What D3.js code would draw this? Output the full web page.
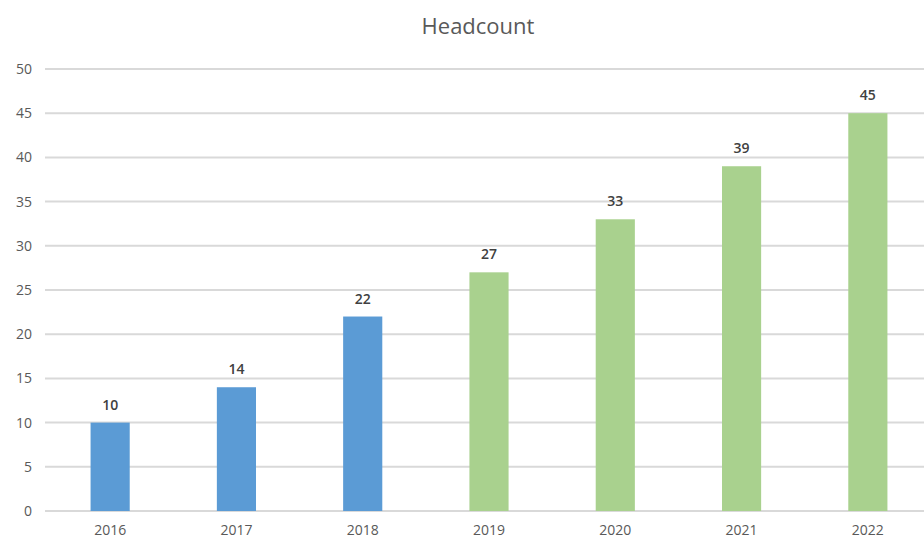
<!DOCTYPE html>
<html>
<head>
  <meta charset="utf-8">
  <script src="https://d3js.org/d3.v7.min.js"></script>
  <style>
    body { margin: 0; background: #fff; }
    svg { display: block; }
    .title { font-family: "Open Sans", sans-serif; font-size: 22px; fill: #595959; text-anchor: middle; }
    .axis text { font-family: "Open Sans", sans-serif; font-size: 14px; fill: #595959; }
    .axis .domain, .axis line { display: none; }
    .grid line { stroke: #d9d9d9; stroke-width: 2px; }
    .label { font-family: "Open Sans", sans-serif; font-size: 14px; font-weight: 600; fill: #404040; text-anchor: middle; }
  </style>
</head>
<body>
<script>

// headcount per year; actuals first, then plan
var years = ["2016", "2017", "2018", "2019", "2020", "2021", "2022"];
var headcount = [10, 14, 22, 27, 33, 39, 45];
var actualYears = ["2016", "2017", "2018"];
var yTicks = [0, 5, 10, 15, 20, 25, 30, 35, 40, 45, 50];

var width = 924, height = 540;
var margin = {top: 69, right: -7, bottom: 29, left: 47};

var svg = d3.select("body").append("svg")
    .attr("width", width)
    .attr("height", height);

var x = d3.scaleBand()
    .domain(years)
    .range([margin.left, width - margin.right])
    .paddingInner(0.69)
    .paddingOuter(0.345);

var y = d3.scaleLinear()
    .domain([0, 50])
    .range([height - margin.bottom, margin.top]);

svg.append("text")
    .attr("class", "title")
    .attr("x", 478)
    .attr("y", 34)
    .text("Headcount");

// horizontal grid lines
svg.append("g")
    .attr("class", "grid")
  .selectAll("line")
  .data(yTicks)
  .enter().append("line")
    .attr("x1", 45)
    .attr("x2", width)
    .attr("y1", function(d) { return y(d); })
    .attr("y2", function(d) { return y(d); });

// y axis labels
svg.append("g")
    .attr("class", "axis")
    .attr("transform", "translate(39,0)")
    .call(d3.axisLeft(y).tickValues(yTicks).tickSize(0).tickPadding(7));

// x axis labels
svg.append("g")
    .attr("class", "axis")
    .attr("transform", "translate(0," + (height - margin.bottom) + ")")
    .call(d3.axisBottom(x).tickSize(0).tickPadding(14));

var rows = years.map(function(yr, i) { return {year: yr, value: headcount[i]}; });

svg.selectAll(".bar")
    .data(rows)
  .enter().append("rect")
    .attr("class", "bar")
    .attr("x", function(d) { return x(d.year); })
    .attr("y", function(d) { return y(d.value); })
    .attr("width", x.bandwidth())
    .attr("height", function(d) { return y(0) - y(d.value); })
    .attr("fill", function(d) { return actualYears.indexOf(d.year) >= 0 ? "#5b9bd5" : "#a9d18e"; });

svg.selectAll(".label")
    .data(rows)
  .enter().append("text")
    .attr("class", "label")
    .attr("x", function(d) { return x(d.year) + x.bandwidth() / 2; })
    .attr("y", function(d) { return y(d.value) - 13; })
    .text(function(d) { return d.value; });

</script>
</body>
</html>
